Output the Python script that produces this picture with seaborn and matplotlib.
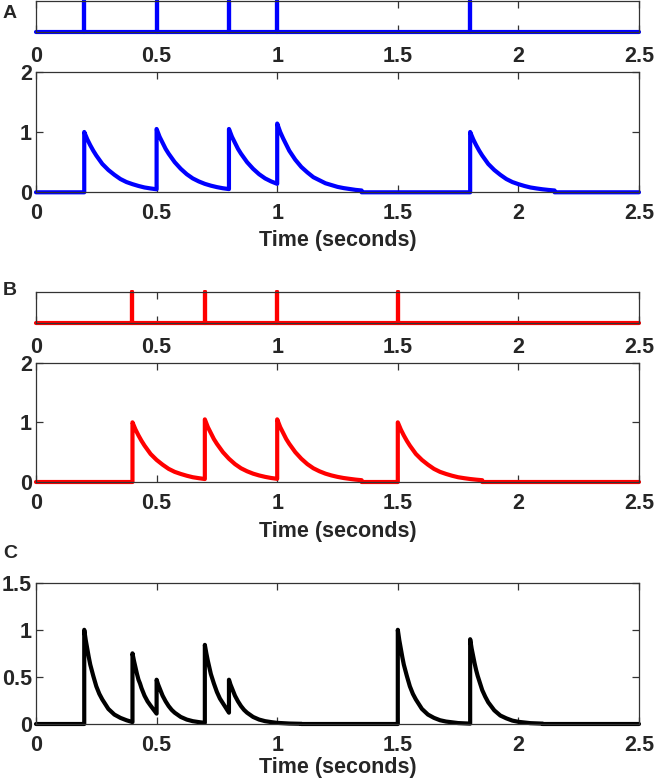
import matplotlib
matplotlib.use("Agg")
import matplotlib.pyplot as plt
import seaborn as sns
import pandas as pd

# spike times (seconds) for the two inputs
spikes_a = [0.2, 0.5, 0.8, 1.0, 1.8]
spikes_b = [0.4, 0.7, 1.0, 1.5]
spikes_c = [0.2, 0.4, 0.5, 0.7, 0.8, 1.5, 1.8]

# sample offsets after each spike, and the trace values read at them
decay_dt_ab = [0, .0125, .025, .0375, .05, .075, .1, .125, .15, .175, .2,
               .225, .25, .275, .3, .325, .35]
decay_dt_c = [0, .00625, .0125, .01875, .025, .03125, .0375, .05, .0625, .075,
              .1, .125, .15, .175, .2, .25, .3]

decay_a = [
    [1.00, .88, .78, .69, .61, .47, .37, .29, .22, .17, .135, .105, .08, .064, .05],
    [1.05, .92, .82, .72, .64, .50, .39, .30, .23, .18, .14, .11, .086, .067, .053],
    [1.05, .92, .82, .72, .64, .50, .39, .30, .23, .18, .14],
    [1.14, 1.0, .89, .79, .69, .54, .42, .33, .25, .20, .15, .12, .09, .07, .055, .04, .03],
    [1.00, .88, .78, .69, .61, .47, .37, .29, .22, .17, .135, .105, .08, .064, .05, .039, .03],
]
decay_b = [
    [1.00, .88, .78, .69, .61, .47, .37, .29, .22, .17, .135, .105, .08, .064, .05],
    [1.05, .92, .82, .72, .64, .50, .39, .30, .23, .18, .14, .11, .086, .067, .053],
    [1.05, .92, .82, .72, .64, .50, .39, .30, .23, .18, .14, .11, .086, .067, .053, .04, .03],
    [1.00, .88, .78, .69, .61, .47, .37, .29, .22, .17, .135, .105, .08, .064, .05, .039, .03],
]
decay_c = [
    [1.00, .89, .80, .71, .63, .57, .51, .40, .32, .26, .16, .10, .065, .04, .02],
    [.75, .67, .60, .53, .47, .43, .38, .30, .24, .195, .11],
    [.47, .42, .38, .34, .30, .27, .24, .19, .15, .12, .075, .047, .03, .02, .012],
    [.84, .75, .67, .60, .53, .48, .43, .34, .27, .22, .12],
    [.47, .42, .38, .34, .30, .27, .24, .19, .15, .12, .075, .047, .03, .02, .012, .005, .002],
    [1.00, .89, .80, .71, .63, .57, .51, .40, .32, .26, .16, .10, .065, .04, .026, .01, .004],
    [.90, .80, .72, .64, .57, .51, .46, .36, .29, .23, .145, .09, .06, .036, .023, .009, .004],
]

T_END = 2.5


def build_trace(spikes, decays, offsets):
    t, v = [0.0], [0.0]
    for s, vals in zip(spikes, decays):
        if t[-1] < s - 1e-9:
            if v[-1] != 0:
                t.append(t[-1]); v.append(0.0)
            t.append(s); v.append(0.0)
        for d, y in zip(offsets, vals):
            t.append(s + d); v.append(y)
    t.append(t[-1]); v.append(0.0)
    t.append(T_END); v.append(0.0)
    return pd.DataFrame({"t": t, "v": v})


def build_raster(spikes):
    t, v = [0.0], [0.0]
    for s in spikes:
        t += [s, s, s]
        v += [0.0, 1.0, 0.0]
    t.append(T_END); v.append(0.0)
    return pd.DataFrame({"t": t, "v": v})


sns.set_style("white")
plt.rcParams["font.family"] = ["Liberation Sans", "DejaVu Sans"]
plt.rcParams["font.weight"] = "bold"
plt.rcParams["axes.edgecolor"] = "#333333"
plt.rcParams["axes.linewidth"] = 0.9
plt.rcParams["xtick.direction"] = "in"
plt.rcParams["ytick.direction"] = "in"

W, H = 654, 782
fig = plt.figure(figsize=(W / 100, H / 100), dpi=100)


def add_ax(top, bottom):
    return fig.add_axes([36 / W, 1 - bottom / H, 603 / W, (bottom - top) / H])


def style(ax, yticks, ylim):
    ax.set_xlim(0, T_END)
    ax.set_ylim(*ylim)
    ax.set_xticks([0, 0.5, 1, 1.5, 2, 2.5])
    ax.set_xticklabels(["0", "0.5", "1", "1.5", "2", "2.5"])
    ax.set_yticks(yticks)
    ax.set_yticklabels([f"{y:g}" for y in yticks])
    ax.tick_params(axis="x", which="both", top=True, bottom=True, length=5,
                   width=0.9, color="#333333", labelsize=15.5, pad=8)
    ax.tick_params(axis="y", which="both", left=True, right=True, length=5,
                   width=0.9, color="#333333", labelsize=15.5, pad=3)
    for sp in ax.spines.values():
        sp.set_visible(True)
    ax.set_ylabel("")


def raster_panel(top, bottom, spikes, color):
    ax = add_ax(top, bottom)
    sns.lineplot(data=build_raster(spikes), x="t", y="v", sort=False,
                 estimator=None, color=color, lw=3.0, ax=ax, clip_on=False)
    style(ax, [], (0, 1))
    ax.tick_params(axis="x", pad=10)
    ax.set_xlabel("")
    return ax


def trace_panel(top, bottom, df, color, yticks, ylim, label_y):
    ax = add_ax(top, bottom)
    sns.lineplot(data=df, x="t", y="v", sort=False, estimator=None,
                 color=color, lw=3.0, ax=ax, clip_on=False)
    style(ax, yticks, ylim)
    ax.set_xlabel("Time (seconds)", fontsize=15.5, fontweight="bold")
    ax.xaxis.set_label_coords(0.5, -(label_y - bottom) / (bottom - top))
    ax.xaxis.label.set_va("center")
    return ax


blue, red = "#0000ff", "#ff0000"

raster_panel(1, 32.3, spikes_a, blue)
trace_panel(71.7, 192.3, build_trace(spikes_a, decay_a, decay_dt_ab), blue,
            [0, 1, 2], (0, 2), 240)

raster_panel(291.7, 322.7, spikes_b, red)
trace_panel(362.7, 482, build_trace(spikes_b, decay_b, decay_dt_ab), red,
            [0, 1, 2], (0, 2), 532)

trace_panel(582.7, 724, build_trace(spikes_c, decay_c, decay_dt_c), "black",
            [0, 0.5, 1, 1.5], (0, 1.5), 768)

for letter, y in [("A", 14), ("B", 290), ("C", 553)]:
    fig.text(3 / W, 1 - y / H, letter, fontsize=14, fontweight="bold",
             va="center", ha="left")

fig.savefig("out.png", dpi=100)
